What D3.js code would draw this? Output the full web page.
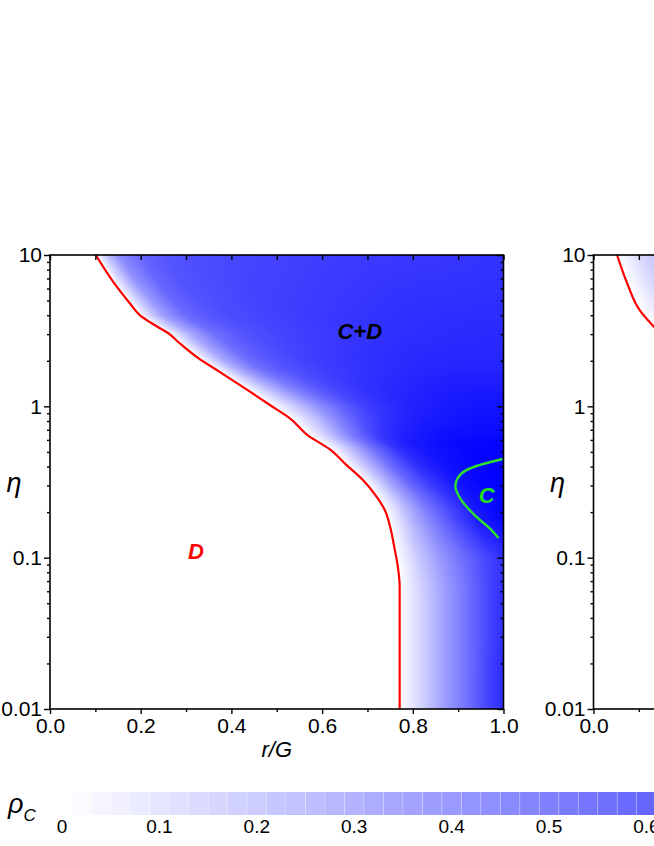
<!DOCTYPE html>
<html><head><meta charset="utf-8">
<script src="https://cdn.jsdelivr.net/npm/d3@7/dist/d3.min.js"></script>
<style>
html,body{margin:0;padding:0;background:#fff;}
svg{display:block;font-family:"Liberation Sans",Arial,Helvetica,sans-serif;}
</style></head><body>
<svg id="chart" width="654" height="846"></svg>
<script>
// ---------------- DATA ----------------
// rho_C: each row is one eta level (log10 eta),
// values at given distances (in r/G) to the right of the red boundary.
const boundaryOffsets = [0,0.02,0.05,0.1,0.15,0.2,0.25,0.3,0.4,0.5,0.6,0.7,0.8,0.9];
const logEtaRows1 = [1,0.75,0.5,0.25,0,-0.25,-0.5,-0.75,-1,-1.25,-1.5,-1.75,-2];
const rhoRows1 = [
  [0,0.20,0.45,0.60,0.66,0.69,0.705,0.72,0.74,0.76,0.77,0.78,0.79,0.80],
  [0,0.17,0.40,0.60,0.67,0.70,0.72,0.74,0.76,0.78,0.80,0.805,0.81,0.82],
  [0,0.15,0.35,0.56,0.65,0.70,0.73,0.75,0.785,0.81,0.825,0.835,0.84,0.84],
  [0,0.14,0.34,0.56,0.66,0.72,0.76,0.79,0.83,0.855,0.86,0.86,0.86,0.86],
  [0,0.08,0.20,0.42,0.60,0.74,0.81,0.86,0.91,0.93,0.93,0.93,0.93,0.93],
  [0,0.09,0.26,0.56,0.80,0.90,0.94,0.97,0.98,0.98,0.98,0.98,0.98,0.98],
  [0,0.12,0.32,0.62,0.80,0.92,0.97,1.00,1.00,1.00,1.00,1.00,1.00,1.00],
  [0,0.10,0.28,0.52,0.72,0.90,0.97,1.00,1.00,1.00,1.00,1.00,1.00,1.00],
  [0,0.08,0.22,0.41,0.58,0.73,0.84,0.90,0.90,0.90,0.90,0.90,0.90,0.90],
  [0,0.07,0.18,0.38,0.56,0.74,0.87,0.90,0.90,0.90,0.90,0.90,0.90,0.90],
  [0,0.07,0.18,0.38,0.56,0.74,0.87,0.90,0.90,0.90,0.90,0.90,0.90,0.90],
  [0,0.07,0.18,0.38,0.56,0.75,0.88,0.90,0.90,0.90,0.90,0.90,0.90,0.90],
  [0,0.07,0.18,0.38,0.56,0.75,0.88,0.90,0.90,0.90,0.90,0.90,0.90,0.90]
];
// red boundary (rho_C = 0), left panel: [r/G, eta]
const redLine1 = [[0.101,10],[0.139,6.67],[0.176,4.80],[0.198,4.01],[0.224,3.54],[0.261,3.04],[0.286,2.61],
  [0.327,2.08],[0.374,1.69],[0.430,1.315],[0.485,1.02],[0.529,0.834],[0.571,0.635],[0.615,0.525],
  [0.654,0.409],[0.690,0.326],[0.720,0.253],[0.738,0.207],[0.750,0.160],[0.759,0.118],[0.767,0.087],
  [0.771,0.065],[0.771,0.01]];
// green boundary (pure C), left panel
const greenLine1 = [[0.998,0.449],[0.918,0.379],[0.899,0.336],[0.894,0.293],[0.907,0.240],[0.941,0.185],[0.969,0.157],[0.989,0.135]];

// right panel (only its left edge is visible)
const logEtaRows2 = [1,0.75,0.5];
const rhoRows2 = [
  [0,0.06,0.15,0.27,0.36,0.42,0.46,0.50,0.55,0.58,0.60,0.62,0.63,0.64],
  [0,0.05,0.13,0.25,0.33,0.40,0.44,0.48,0.53,0.56,0.58,0.60,0.61,0.62],
  [0,0.04,0.10,0.20,0.28,0.35,0.40,0.44,0.50,0.54,0.56,0.58,0.59,0.60]
];
const redLine2 = [[0.052,10],[0.074,6.53],[0.103,4.27],[0.136,3.29]];

// axes
const xTicks = [0,0.2,0.4,0.6,0.8,1.0];
const xMinorTicks = [0.1,0.3,0.5,0.7,0.9];
const yTicks = [0.01,0.1,1,10];
const yMinorTicks = [0.02,0.03,0.04,0.05,0.06,0.07,0.08,0.09,0.2,0.3,0.4,0.5,0.6,0.7,0.8,0.9,2,3,4,5,6,7,8,9];
const colorbarTicks = [0,0.1,0.2,0.3,0.4,0.5,0.6];
const colorbarBlocks = [0.01,0.03,0.05,0.07,0.09,0.11,0.13,0.15,0.17,0.19,0.21,0.23,0.25,0.27,0.29,0.31,0.33,0.35,0.37,0.39,0.41,0.43,0.45,0.47,0.49,0.51,0.53,0.55,0.57,0.59,0.61];
const regionLabels1 = [
  {text:"C+D", x:0.683, eta:3.15, color:"#000000"},
  {text:"D", x:0.322, eta:0.111, color:"#ff0000"},
  {text:"C", x:0.963, eta:0.259, color:"#22dd22"}
];

// ---------------- DRAW ----------------
const svg = d3.select("#chart");
const VIEW_W = 654;
const color = d3.scaleLinear().domain([0,1]).range(["#ffffff","#0000ff"]).interpolate(d3.interpolateRgb).clamp(true);
const defs = svg.append("defs");
const FONT = '"Liberation Sans",Arial,sans-serif';

function boundaryX(line, L) {
  for (let i=0;i<line.length-1;i++){
    const La=Math.log10(line[i][1]), Lb=Math.log10(line[i+1][1]);
    if (L<=La && L>=Lb) { const t = La===Lb?0:(L-La)/(Lb-La); return line[i][0]+t*(line[i+1][0]-line[i][0]); }
  }
  return null;
}
function profile(row, d) {
  const o = boundaryOffsets;
  if (d <= 0) return 0;
  for (let i=0;i<o.length-1;i++) if (d<=o[i+1]) { const t=(d-o[i])/(o[i+1]-o[i]); return row[i]+t*(row[i+1]-row[i]); }
  return row[row.length-1];
}
function rhoAt(rows, logs, L, d) {
  if (L >= logs[0]) return profile(rows[0], d);
  if (L <= logs[logs.length-1]) return profile(rows[rows.length-1], d);
  for (let k=0;k<logs.length-1;k++) if (L<=logs[k] && L>=logs[k+1]) {
    const t=(logs[k]-L)/(logs[k]-logs[k+1]);
    return profile(rows[k],d)*(1-t)+profile(rows[k+1],d)*t;
  }
  return 0;
}

function drawPanel(idx, left, logs, rows, redLine, greenLine, labels, showXLabel) {
  const top = 255, width = 453.5, height = 454;
  const xs = d3.scaleLinear().domain([0,1]).range([left, left+width]);
  const ys = d3.scaleLog().domain([0.01,10]).range([top+height, top]);

  defs.append("clipPath").attr("id","plot"+idx).append("rect")
    .attr("x",left).attr("y",top).attr("width",width).attr("height",height);
  const g = svg.append("g").attr("clip-path","url(#plot"+idx+")");

  // heat map rendered from the row profiles
  const W = Math.round(width), H = Math.round(height);
  const cv = document.createElement("canvas"); cv.width = W; cv.height = H;
  const ctx = cv.getContext("2d");
  const img = ctx.createImageData(W, H);
  for (let py=0; py<H; py++) {
    const L = Math.log10(ys.invert(top + (py+0.5)*height/H));
    const xb = boundaryX(redLine, L);
    for (let px=0; px<W; px++) {
      let v = 0;
      if (xb !== null) {
        const x = xs.invert(left + (px+0.5)*width/W);
        v = rhoAt(rows, logs, L, x - xb);
      }
      const c = d3.rgb(color(v)); const k = 4*(py*W+px);
      img.data[k]=c.r; img.data[k+1]=c.g; img.data[k+2]=c.b; img.data[k+3]=255;
    }
  }
  ctx.putImageData(img,0,0);
  g.append("image").attr("href", cv.toDataURL())
    .attr("x",left).attr("y",top).attr("width",width).attr("height",height)
    .attr("preserveAspectRatio","none");

  const line = d3.line().x(d=>xs(d[0])).y(d=>ys(d[1])).curve(d3.curveMonotoneY);
  g.append("path").attr("d", line(redLine)).attr("fill","none").attr("stroke","#ff0000").attr("stroke-width",2.2)
    .attr("stroke-linejoin","round");
  if (greenLine) g.append("path").attr("d", d3.line().x(d=>xs(d[0])).y(d=>ys(d[1])).curve(d3.curveCatmullRom.alpha(0.5))(greenLine))
    .attr("fill","none").attr("stroke","#2ee02e").attr("stroke-width",2.4);

  (labels||[]).forEach(l=>{
    svg.append("text").attr("x",xs(l.x)).attr("y",ys(l.eta)).attr("dy","0.36em")
      .attr("text-anchor","middle").attr("font-size",22).attr("font-weight","bold").attr("font-style","italic")
      .attr("fill",l.color).text(l.text);
  });

  // axes
  const styleAxis = sel => { sel.select(".domain").remove(); sel.selectAll("line").attr("stroke","#000").attr("stroke-width",1.4);
    sel.selectAll("text").attr("font-size",21).attr("fill","#000").attr("font-family",FONT); };
  const visibleX = xTicks.filter(d => xs(d) < VIEW_W);
  svg.append("g").attr("transform",`translate(0,${top+height})`)
    .call(d3.axisBottom(xs).tickValues(visibleX).tickFormat(d3.format(".1f")).tickSize(5).tickPadding(4)).call(styleAxis);
  svg.append("g").attr("transform",`translate(0,${top+height})`)
    .call(d3.axisBottom(xs).tickValues(xMinorTicks).tickFormat("").tickSize(3)).call(styleAxis);
  svg.append("g").attr("transform",`translate(0,${top})`)
    .call(d3.axisTop(xs).tickValues(xTicks.concat(xMinorTicks)).tickFormat("").tickSize(-5)).call(styleAxis);
  svg.append("g").attr("transform",`translate(${left},0)`)
    .call(d3.axisLeft(ys).tickValues(yTicks).tickFormat(d3.format("~g")).tickSize(6).tickPadding(2)).call(styleAxis);
  svg.append("g").attr("transform",`translate(${left},0)`)
    .call(d3.axisLeft(ys).tickValues(yMinorTicks).tickFormat("").tickSize(3)).call(styleAxis);
  svg.append("g").attr("transform",`translate(${left+width},0)`)
    .call(d3.axisRight(ys).tickValues(yTicks).tickFormat("").tickSize(-6)).call(styleAxis);
  svg.append("g").attr("transform",`translate(${left+width},0)`)
    .call(d3.axisRight(ys).tickValues(yMinorTicks).tickFormat("").tickSize(-3)).call(styleAxis);

  svg.append("rect").attr("x",left).attr("y",top).attr("width",width).attr("height",height)
    .attr("fill","none").attr("stroke","#000").attr("stroke-width",1.6);

  svg.append("text").attr("x",left-36).attr("y",492).attr("font-size",27).attr("font-style","italic")
    .attr("text-anchor","middle").text("\u03b7");
  if (showXLabel) svg.append("text").attr("x",left+width/2).attr("y",757).attr("font-size",22).attr("font-style","italic")
    .attr("text-anchor","middle").text("r/G");
}

drawPanel(1, 50, logEtaRows1, rhoRows1, redLine1, greenLine1, regionLabels1, true);
drawPanel(2, 593.5, logEtaRows2, rhoRows2, redLine2, null, [], false);

// colour bar
const cb = d3.scaleLinear().domain([0,1]).range([62, 62+974]);
const cbg = svg.append("g");
cbg.selectAll("rect").data(colorbarBlocks).join("rect")
  .attr("x", d=>cb(d)).attr("y",792).attr("width", d=>cb(d+0.02)-cb(d)).attr("height",23)
  .attr("fill", d=>color(d+0.01));
cbg.selectAll("line").data(colorbarBlocks.slice(1)).join("line")
  .attr("x1", d=>cb(d)).attr("x2", d=>cb(d)).attr("y1",792).attr("y2",815)
  .attr("stroke","#ffffff").attr("stroke-opacity",0.25).attr("stroke-width",1);
cbg.selectAll("text").data(colorbarTicks).join("text")
  .attr("x", d=>cb(d)).attr("y",833).attr("text-anchor","middle").attr("font-size",19)
  .text(d=>d3.format("~g")(d));
const rl = svg.append("text").attr("x",8).attr("y",813).attr("font-style","italic");
rl.append("tspan").attr("font-size",27).text("\u03c1");
rl.append("tspan").attr("font-size",17).attr("dy",8).attr("dx",0).text("C");
</script>
</body></html>
